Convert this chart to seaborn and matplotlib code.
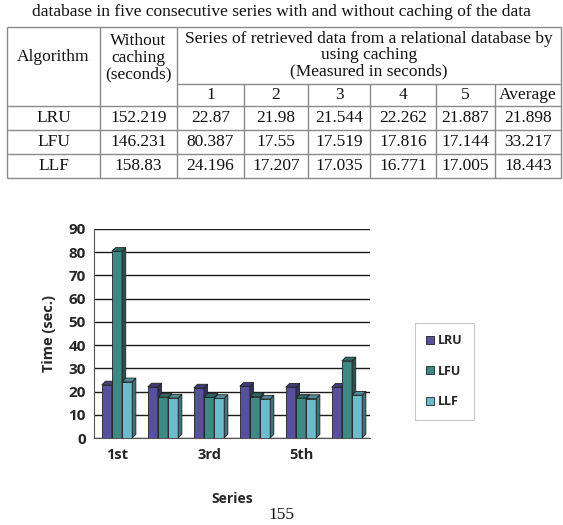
import numpy as np
import pandas as pd
import matplotlib
matplotlib.use("Agg")
import matplotlib.pyplot as plt
from matplotlib.patches import Polygon, Patch
from matplotlib.colors import to_rgb
import seaborn as sns

# data from the table
algorithms = ["LRU", "LFU", "LLF"]
without_caching = ["152.219", "146.231", "158.83"]
series = ["1st", "2nd", "3rd", "4th", "5th", "Average"]
lru = [22.87, 21.98, 21.544, 22.262, 21.887, 21.898]
lfu = [80.387, 17.55, 17.519, 17.816, 17.144, 33.217]
llf = [24.196, 17.207, 17.035, 16.771, 17.005, 18.443]
col_heads = ["1", "2", "3", "4", "5", "Average"]
colors = ["#56519c", "#3f8985", "#6cbccb"]

df = pd.DataFrame({
    "Series": series * 3,
    "Time": lru + lfu + llf,
    "Algorithm": np.repeat(algorithms, len(series)),
})

sns.set_style("white")
plt.rcParams["font.family"] = ["Open Sans", "DejaVu Sans"]

fig = plt.figure(figsize=(5.63, 5.25), dpi=100)

# ---- table (drawn in pixel coords) ----
tab = fig.add_axes([0, 0, 1, 1])
tab.set_xlim(0, 563)
tab.set_ylim(525, 0)
tab.axis("off")
tab.patch.set_alpha(0)
serif = dict(family=["Liberation Serif", "DejaVu Serif"], fontsize=12.5, color="#111111",
             ha="center", va="center")
lc = "#8a8a8a"
vx = [7, 100, 177, 244, 308, 370, 436, 495, 561]
tab.hlines([27, 106, 130, 154, 178], vx[0], vx[-1], color=lc, lw=1)
tab.hlines(84, vx[2], vx[-1], color=lc, lw=1)
tab.vlines([vx[0], vx[1], vx[2], vx[-1]], 27, 178, color=lc, lw=1)
tab.vlines(vx[3:-1], 84, 178, color=lc, lw=1)

tab.text(281, 12, "database in five consecutive series with and without caching of the data", **serif)
tab.text((vx[0] + vx[1]) / 2, 57, "Algorithm", **serif)
for i, s in enumerate(["Without", "caching", "(seconds)"]):
    tab.text((vx[1] + vx[2]) / 2, 41 + 16.5 * i, s, **serif)
for i, s in enumerate(["Series of retrieved data from a relational database by",
                       "using caching", "(Measured in seconds)"]):
    tab.text((vx[2] + vx[-1]) / 2, 39 + 16 * i, s, **serif)
for j, h in enumerate(col_heads):
    tab.text((vx[2 + j] + vx[3 + j]) / 2, 95, h, **serif)
rows = [lru, lfu, llf]
for r, name in enumerate(algorithms):
    y = 118 + 24 * r
    tab.text((vx[0] + vx[1]) / 2, y, name, **serif)
    tab.text((vx[1] + vx[2]) / 2, y, without_caching[r], **serif)
    for j, v in enumerate(rows[r]):
        tab.text((vx[2 + j] + vx[3 + j]) / 2, y, f"{v:g}", **serif)

tab.text(281, 523, "155", **{**serif, "va": "bottom"})

# ---- bar chart ----
ax = fig.add_axes([94 / 563, 87 / 525, 276 / 563, 209 / 525])
sns.barplot(data=df, x="Series", y="Time", hue="Algorithm", palette=colors,
            width=0.66, saturation=1, edgecolor="#222222", linewidth=0.6,
            legend=False, ax=ax, zorder=3)

ax.set_ylim(0, 90)
ax.set_xlim(-0.5, 5.5)
ax.set_yticks(range(0, 91, 10))
ax.yaxis.grid(True, color="#1a1a1a", lw=1)
ax.set_axisbelow(True)
for s in ["top", "right"]:
    ax.spines[s].set_visible(False)
ax.spines["left"].set_color("#555555")
ax.spines["bottom"].set_color("#555555")

# 3d-ish faces, computed from each bar
dx, dy = 0.08, 1.6
nser = len(series)
for k, p in enumerate(ax.patches):
    hi = k // nser
    base = colors[hi]
    x0, w, h = p.get_x(), p.get_width(), p.get_height()
    z = 3 + hi
    p.set_zorder(z)
    side = Polygon([(x0 + w, 0), (x0 + w + dx, dy), (x0 + w + dx, h + dy), (x0 + w, h)],
                   closed=True, fc=tuple(c * 0.6 for c in to_rgb(base)),
                   ec="#222222", lw=0.6, zorder=z)
    top = Polygon([(x0, h), (x0 + dx, h + dy), (x0 + w + dx, h + dy), (x0 + w, h)],
                  closed=True, fc=tuple(c * 0.75 for c in to_rgb(base)),
                  ec="#222222", lw=0.6, zorder=z)
    ax.add_patch(side)
    ax.add_patch(top)

ax.set_xticks(range(nser))
ax.set_xticklabels([s if i % 2 == 0 else "" for i, s in enumerate(series)],
                   fontweight="bold", fontsize=10.5)
ax.set_xticks(np.arange(-0.5, nser, 1), minor=True)
ax.tick_params(axis="x", which="major", length=0, pad=7)
ax.tick_params(axis="x", which="minor", length=3, color="#555555")
ax.tick_params(axis="y", length=3, color="#555555", labelsize=11, pad=3)
for t in ax.get_yticklabels():
    t.set_fontweight("bold")
ax.set_xlabel("Series", fontweight="bold", fontsize=10, labelpad=22)
ax.set_ylabel("Time (sec.)", fontweight="bold", fontsize=10.5, labelpad=9)

handles = [Patch(fc=c, ec="#222222", lw=0.6, label=a) for a, c in zip(algorithms, colors)]
leg = fig.legend(handles=handles, loc="upper left", bbox_to_anchor=(415 / 563, 1 - 323 / 525),
                 frameon=True, fancybox=False, handlelength=0.6, handleheight=0.6,
                 handletextpad=0.3, labelspacing=1.4, borderpad=0.9, borderaxespad=0,
                 prop={"weight": "bold", "size": 9})
leg.get_frame().set_edgecolor("#bbbbbb")
leg.get_frame().set_linewidth(0.8)

fig.savefig("out.png", dpi=100)
